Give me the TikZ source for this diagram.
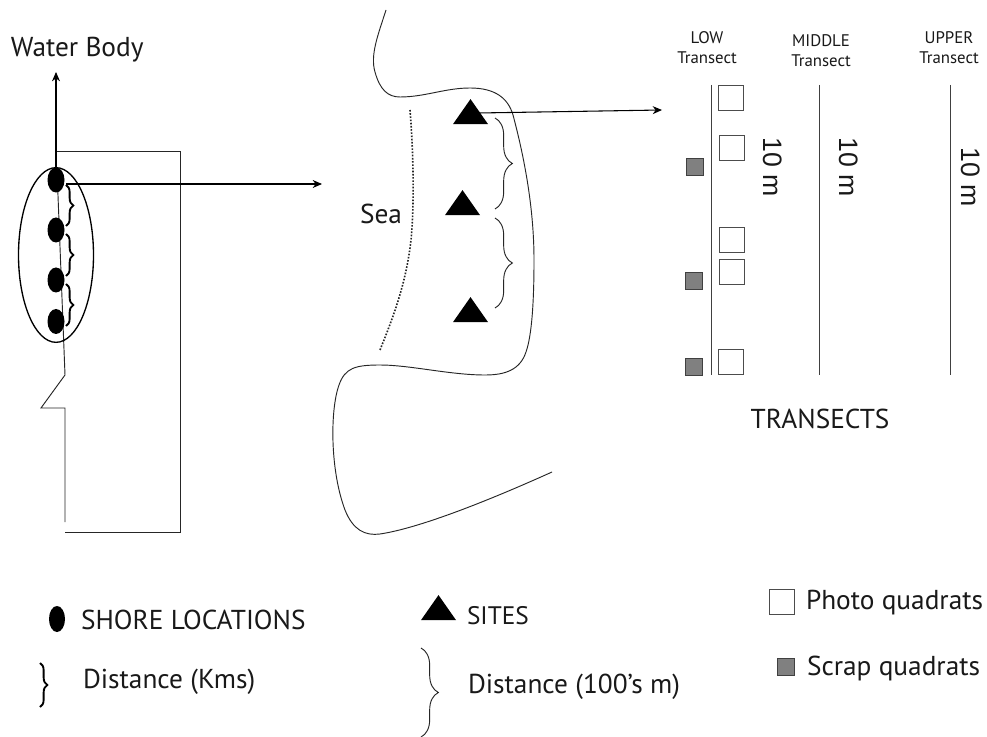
\documentclass[tikz,border=0pt]{standalone}
\usepackage{fontspec}
\setmainfont{PT Sans}
\newfontfamily\rotfont{Liberation Sans}
\usetikzlibrary{shapes.geometric,decorations.pathreplacing,arrows.meta}
\tikzset{
  lbl/.style={inner sep=0pt,outer sep=0pt,text=black!90},
  big/.style={lbl,font=\fontsize{20.5}{22}\selectfont},
  leg/.style={lbl,font=\fontsize{20.5}{22}\selectfont},
  small/.style={lbl,font=\fontsize{12.6}{15}\selectfont,align=center},
  tenm/.style={lbl,font=\rotfont\fontsize{20}{22}\selectfont,rotate=-90},
  dot/.style={ellipse,fill=black,draw=none,minimum width=12.75pt,minimum height=18.75pt,inner sep=0pt,outer sep=0pt},
  site/.style={isosceles triangle,isosceles triangle apex angle=70,isosceles triangle stretches,shape border rotate=90,fill=black,draw=none,minimum width=26.25pt,minimum height=18.75pt,inner sep=0pt,outer sep=0pt},
  photo/.style={rectangle,draw=black!70,line width=0.7pt,fill=white,minimum size=18.75pt,inner sep=0pt},
  scrap/.style={rectangle,draw=black!75,line width=0.7pt,fill=black!50,minimum size=12.75pt,inner sep=0pt},
  coast/.style={line width=0.7pt,black!85},
  arr/.style={line width=0.8pt,black,-{Stealth[length=7pt,width=6pt]}},
  kbrace/.style={line width=1.4pt,black,decorate,decoration={brace,amplitude=5.5pt}},
  mbrace/.style={line width=0.7pt,black!85,decorate,decoration={brace,amplitude=13pt}},
  trans/.style={line width=0.7pt,black!75},
}
\begin{document}
\begin{tikzpicture}[x=0.75pt,y=-0.75pt]
\useasboundingbox (0,0) rectangle (987,737);
\fill[white] (0,0) rectangle (987,737);
% left map
\draw[coast] (57,151) -- (180,151) -- (180,532) -- (65,532);
\draw[coast] (57,170) -- (65,375) -- (41,408) -- (65,408) -- (65,522);
\node[dot] (d1) at (56,180) {};
\node[dot] (d2) at (56,230) {};
\node[dot] (d3) at (56,280) {};
\node[dot] (d4) at (56,321.5) {};
\node[ellipse,draw=black,line width=1pt,minimum width=56.25pt,minimum height=131pt,inner sep=0pt] (loc) at (56,255) {};
\coordinate (wb) at (56,72);
\coordinate (a1) at (322,184);
\draw[arr] (d1.north) -- (wb);
\draw[arr] (66,184) -- (a1);
\draw[kbrace] (66,185) -- (66,226);
\draw[kbrace] (66,234) -- (66,276);
\draw[kbrace] (66,284) -- (66,326);
\node[big,anchor=west] (wbt) at (11,50) {Water Body};
% middle map
\draw[coast] (386,10) .. controls (378,35) and (370,55) .. (375,72)
  .. controls (380,90) and (388,97) .. (400,97)
  .. controls (425,97) and (445,88) .. (470,88)
  .. controls (495,88) and (508,98) .. (513,115)
  .. controls (525,160) and (534,210) .. (534,260)
  .. controls (534,300) and (532,335) .. (526,352)
  .. controls (520,370) and (505,375) .. (485,375)
  .. controls (450,375) and (410,365) .. (380,365)
  .. controls (355,365) and (345,368) .. (339,385)
  .. controls (330,410) and (330,470) .. (345,510)
  .. controls (353,530) and (365,536) .. (380,534)
  .. controls (420,528) and (490,500) .. (552,472);
\draw[line width=1.2pt,black!85,dash pattern=on 1.2pt off 1.2pt] (410,110) .. controls (414,160) and (414,210) .. (411,240) .. controls (406,285) and (392,320) .. (380,350);
\node[site] (s1) at (470.5,115) {};
\node[site] (s2) at (462.5,206) {};
\node[site] (s3) at (470.5,313) {};
\coordinate (a3) at (662,110);
\draw[arr] (s1.center) ++(8,-2) -- (a3);
\draw[mbrace] (495,118) -- (495,209);
\draw[mbrace] (495,218) -- (495,308);
\node[big,anchor=west] (sea) at (360,214) {Sea};
% transects
\draw[trans] (711,85) -- (711,375);
\draw[trans] (819,85) -- (819,375);
\draw[trans] (950,85) -- (950,375);
\node[photo] (p1) at (730.5,97.5) {};
\node[photo] (p2) at (732,147.5) {};
\node[photo] (p3) at (731.5,239.5) {};
\node[photo] (p4) at (732,271.5) {};
\node[photo] (p5) at (730.5,361.5) {};
\node[scrap] (q1) at (694.5,166.5) {};
\node[scrap] (q2) at (693.5,280.5) {};
\node[scrap] (q3) at (694,366.5) {};
\node[tenm] (t1) at (773,167) {10 m};
\node[tenm] (t2) at (849,167) {10 m};
\node[tenm] (t3) at (971,177) {10 m};
\node[small] (low) at (707,48) {LOW\\Transect};
\node[small] (mid) at (821,51) {MIDDLE\\Transect};
\node[small] (upp) at (949,48) {UPPER\\Transect};
\node[big] (tt) at (820,419) {TRANSECTS};
% legend
\node[dot,minimum width=12pt,minimum height=19.5pt] (ld) at (57,619) {};
\node[leg,anchor=west] (lds) at (81,620) {SHORE LOCATIONS};
\draw[kbrace] (40,663) -- (40,707);
\node[leg,anchor=west] (ldk) at (83,682) {Distance (Kms)};
\node[site] (ls) at (438.5,611) {};
\node[leg,anchor=west,font=\fontsize{19}{22}\selectfont] (lst) at (467,616) {SITES};
\draw[mbrace] (421,648) -- (421,737);
\node[leg,anchor=west] (ldm) at (468,687) {Distance (100’s m)};
\node[photo] (lp) at (781.5,601.5) {};
\node[leg,anchor=west] (lpt) at (806,603) {Photo quadrats};
\node[scrap] (lq) at (785.5,667) {};
\node[leg,anchor=west] (lqt) at (807,668) {Scrap quadrats};
\end{tikzpicture}
\end{document}
